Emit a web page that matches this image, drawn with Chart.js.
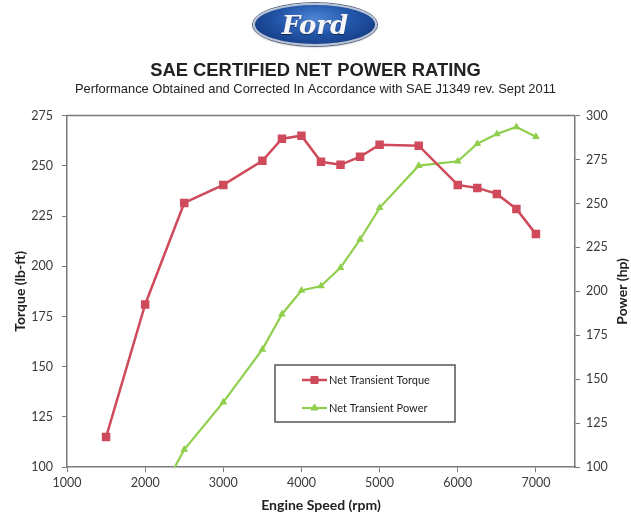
<!DOCTYPE html>
<html>
<head>
<meta charset="utf-8">
<script src="https://cdn.jsdelivr.net/npm/chart.js@4.4.1/dist/chart.umd.min.js"></script>
<style>
  html, body { margin: 0; padding: 0; background: #fff; }
  #wrap { position: relative; width: 631px; height: 514px; }
  #logo {
    position: absolute; left: 253px; top: 3px; width: 120px; height: 39px;
    border-radius: 50%;
    background: radial-gradient(ellipse at 50% 35%, #4f86d6 0%, #2255a8 45%, #0e2f72 100%);
    border: 2px solid #b9c2d2;
    box-shadow: 0 0 0 1px #5a6a8a, 0 1px 2px rgba(0,0,0,0.4);
    display: flex; align-items: center; justify-content: center;
    font-family: "DejaVu Serif", "Liberation Serif", serif; font-style: italic; font-weight: bold;
    font-size: 26px; color: #f4f6fa; letter-spacing: 0px;
    text-shadow: 0 1px 1px rgba(0,0,0,0.5);
  }
  canvas { position: absolute; left: 0; top: 0; }
</style>
</head>
<body>
<div id="wrap">
  <canvas id="c" width="631" height="514"></canvas>
  <div id="logo">Ford</div>
</div>
<script>
const titleText = "SAE CERTIFIED NET POWER RATING";
const subtitleText = "Performance Obtained and Corrected In Accordance with SAE J1349 rev. Sept 2011";
const xTitle = "Engine Speed (rpm)";
const yLeftTitle = "Torque (lb-ft)";
const yRightTitle = "Power (hp)";

const rpm = [1500, 2000, 2500, 3000, 3500, 3750, 4000, 4250, 4500, 4750, 5000, 5500, 6000, 6250, 6500, 6750, 7000];
const torque = [115, 181, 231.5, 240.5, 252.5, 263.5, 265, 252, 250.5, 254.5, 260.5, 260, 240.5, 239, 236, 228.5, 216];
const power = [null, 69, 110, 137, 167, 187, 200.5, 203, 213.5, 229.5, 247.5, 271.5, 274, 284, 289.5, 293.5, 288];

const xTicks = [1000, 2000, 3000, 4000, 5000, 6000, 7000];
const yLeftTicks = [100, 125, 150, 175, 200, 225, 250, 275];
const yRightTicks = [100, 125, 150, 175, 200, 225, 250, 275, 300];

const seriesLabels = ["Net Transient Torque", "Net Transient Power"];
const RED = "#cf4a5a";
const GREEN = "#8fcf4c";
const AXIS = "#7a7a7a";
const TICKTXT = "#3a3a3a";
const FONT = "Lato, 'Open Sans', sans-serif";

const boxPlugin = {
  id: "frame",
  afterDatasetsDraw(chart) {
    const { ctx, chartArea: a } = chart;
    ctx.save();
    ctx.strokeStyle = AXIS;
    ctx.lineWidth = 1.5;
    ctx.beginPath();
    ctx.moveTo(a.left, a.top);
    ctx.lineTo(a.right, a.top);
    ctx.stroke();
    ctx.restore();
  },
  afterDraw(chart) {
    const { ctx, chartArea: a } = chart;
    // right axis title, reading bottom-to-top
    ctx.save();
    ctx.translate(622, (a.top + a.bottom) / 2);
    ctx.rotate(-Math.PI / 2);
    ctx.font = "bold 14px " + FONT;
    ctx.fillStyle = "#222";
    ctx.textAlign = "center";
    ctx.textBaseline = "middle";
    ctx.fillText(yRightTitle, 0, 0);
    ctx.restore();

    // legend box inside plot area
    const lx = 275, ly = 365, lw = 180, lh = 57;
    ctx.save();
    ctx.fillStyle = "#fff";
    ctx.fillRect(lx, ly, lw, lh);
    ctx.strokeStyle = "#555";
    ctx.lineWidth = 1.5;
    ctx.strokeRect(lx, ly, lw, lh);
    const rows = [ly + 15, ly + 43];
    chart.data.datasets.forEach((ds, i) => {
      const y = rows[i];
      ctx.strokeStyle = ds.borderColor;
      ctx.lineWidth = ds.borderWidth;
      ctx.beginPath();
      ctx.moveTo(302, y);
      ctx.lineTo(327, y);
      ctx.stroke();
      ctx.fillStyle = ds.borderColor;
      ctx.strokeStyle = ds.borderColor;
      ctx.lineWidth = 1;
      Chart.helpers.drawPoint(ctx, { pointStyle: ds.pointStyle, radius: i === 0 ? 5 : 4, rotation: 0, borderWidth: 1 }, 314.5, y);
      ctx.fillStyle = "#222";
      ctx.font = "11px " + FONT;
      ctx.textAlign = "left";
      ctx.textBaseline = "middle";
      ctx.fillText(ds.label, 329, y);
    });
    ctx.restore();
  }
};

new Chart(document.getElementById("c"), {
  type: "line",
  data: {
    datasets: [
      {
        label: seriesLabels[0],
        data: rpm.map((x, i) => ({ x, y: torque[i] })),
        yAxisID: "y",
        borderColor: RED,
        backgroundColor: RED,
        borderWidth: 2.5,
        pointStyle: "rect",
        pointRadius: 6,
        pointHoverRadius: 6,
        pointBorderWidth: 0,
        tension: 0
      },
      {
        label: seriesLabels[1],
        data: rpm.map((x, i) => ({ x, y: power[i] })),
        yAxisID: "y1",
        borderColor: GREEN,
        backgroundColor: GREEN,
        borderWidth: 2.2,
        pointStyle: "triangle",
        pointRadius: 4.5,
        pointHoverRadius: 4.5,
        pointBorderWidth: 0,
        tension: 0,
        clip: 0
      }
    ]
  },
  options: {
    responsive: false,
    animation: false,
    events: [],
    layout: { padding: { top: 55, left: 0, right: 0, bottom: 0 } },
    plugins: {
      legend: { display: false },
      tooltip: { enabled: false },
      title: {
        display: true,
        text: titleText,
        color: "#222",
        font: { family: "'Liberation Sans', Arial, sans-serif", size: 18.4, weight: "bold", lineHeight: 1.2 },
        padding: { top: 5, bottom: 0 }
      },
      subtitle: {
        display: true,
        text: subtitleText,
        color: "#222",
        font: { family: "'Liberation Sans', Arial, sans-serif", size: 12.9, lineHeight: 1.2 },
        padding: { top: 0, bottom: 18 }
      }
    },
    scales: {
      x: {
        type: "linear",
        min: 1000,
        max: 7500,
        afterBuildTicks(scale) { scale.ticks = xTicks.map(v => ({ value: v })); },
        grid: { drawOnChartArea: false, color: AXIS, tickLength: 5, tickColor: AXIS },
        border: { display: true, color: AXIS, width: 1.5 },
        ticks: { color: TICKTXT, font: { family: FONT, size: 12.5 }, padding: 3, maxRotation: 0, callback: v => String(v) },
        title: { display: true, text: xTitle, color: "#222", font: { family: FONT, size: 14, weight: "bold" }, padding: { top: 4, bottom: 0 } }
      },
      y: {
        position: "left",
        min: 100,
        max: 275,
        afterBuildTicks(scale) { scale.ticks = yLeftTicks.map(v => ({ value: v })); },
        afterFit(scale) { scale.width = 67; },
        grid: { drawOnChartArea: false, color: AXIS, tickLength: 5, tickColor: AXIS },
        border: { display: true, color: AXIS, width: 1.5 },
        ticks: { color: TICKTXT, font: { family: FONT, size: 12.5 }, padding: 9 },
        title: { display: true, text: yLeftTitle, color: "#222", font: { family: FONT, size: 14, weight: "bold" }, padding: { top: 12, bottom: 4 } }
      },
      y1: {
        position: "right",
        min: 100,
        max: 300,
        afterBuildTicks(scale) { scale.ticks = yRightTicks.map(v => ({ value: v })); },
        afterFit(scale) { scale.width = 56; },
        grid: { drawOnChartArea: false, color: AXIS, tickLength: 5, tickColor: AXIS },
        border: { display: true, color: AXIS, width: 1.5 },
        ticks: { color: TICKTXT, font: { family: FONT, size: 12.5 }, padding: 6 },
        title: { display: false }
      }
    }
  },
  plugins: [boxPlugin]
});
</script>
</body>
</html>
